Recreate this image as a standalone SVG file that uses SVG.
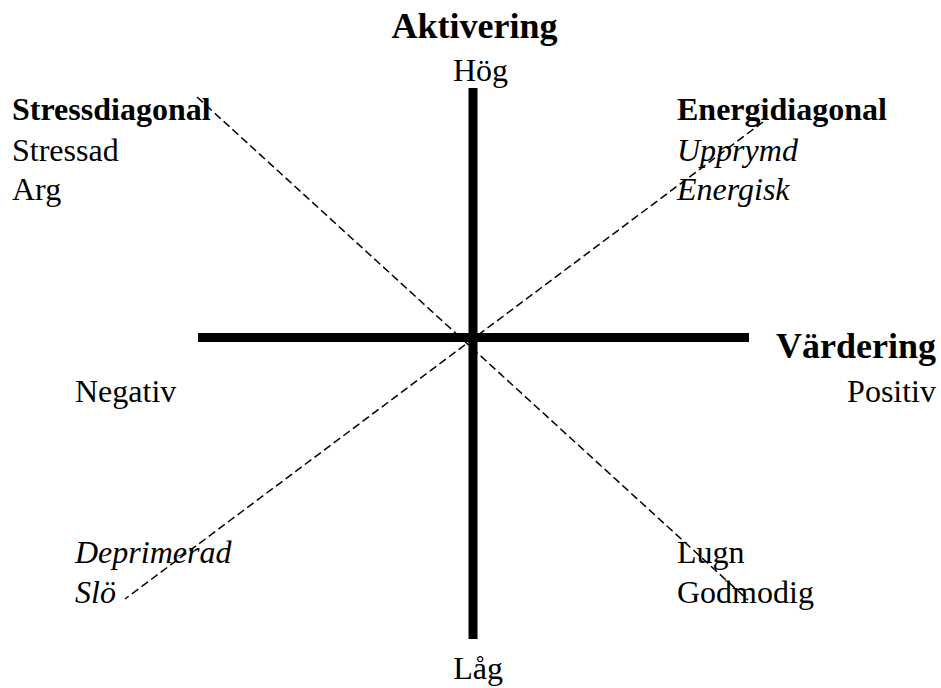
<svg xmlns="http://www.w3.org/2000/svg" width="941" height="688" viewBox="0 0 941 688">
<style>
.t{font-family:"Liberation Serif","Times New Roman",serif;font-size:32px;fill:#000}
.b{font-weight:bold}
.h{font-size:36px;font-weight:bold}
.i{font-style:italic}
.axis{stroke:#000;stroke-width:9;fill:none}
.diag{stroke:#000;stroke-width:1.5;stroke-dasharray:8 4;fill:none}
</style>
<rect width="941" height="688" fill="#fff"/>
<g id="axes">
<line class="axis" x1="473" y1="88" x2="473" y2="639"/>
<line class="axis" x1="198" y1="337.5" x2="749" y2="337.5"/>
</g>
<g id="connectors">
<line class="diag" x1="197" y1="97" x2="748" y2="600"/>
<line class="diag" x1="763" y1="122" x2="125" y2="599"/>
</g>
<g id="aktivering">
<text class="t h" x="474.5" y="38" text-anchor="middle">Aktivering</text>
<text class="t" x="480.5" y="81" text-anchor="middle">Hög</text>
</g>
<g id="lag">
<text class="t" x="478" y="679" text-anchor="middle">Låg</text>
</g>
<g id="vardering">
<text class="t h" x="936" y="358" text-anchor="end">Värdering</text>
<text class="t" x="936" y="402" text-anchor="end">Positiv</text>
</g>
<g id="negativ">
<text class="t" x="75" y="402">Negativ</text>
</g>
<g id="stressdiagonal">
<text class="t b" x="12" y="120">Stressdiagonal</text>
<text class="t" x="12" y="161">Stressad</text>
<text class="t" x="12" y="200">Arg</text>
</g>
<g id="energidiagonal">
<text class="t b" x="677" y="120">Energidiagonal</text>
<text class="t i" x="677" y="161">Upprymd</text>
<text class="t i" x="677" y="200">Energisk</text>
</g>
<g id="deprimerad">
<text class="t i" x="75" y="563">Deprimerad</text>
<text class="t i" x="75" y="603">Slö</text>
</g>
<g id="lugn">
<text class="t" x="677" y="563">Lugn</text>
<text class="t" x="677" y="603">Godmodig</text>
</g>
</svg>
